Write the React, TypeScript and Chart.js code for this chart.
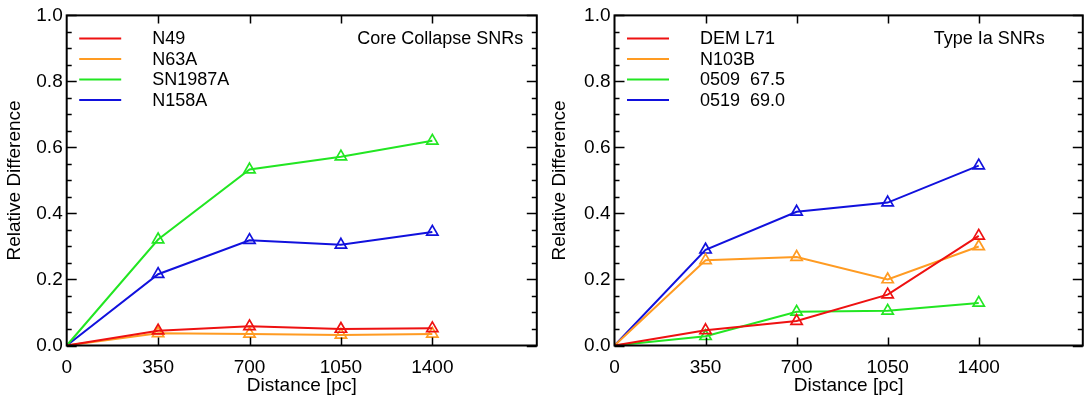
import React, { useEffect, useRef } from 'react';
import { Chart, registerables } from 'chart.js';

Chart.register(...registerables);

const FONT = "'Liberation Sans', Arial, Helvetica, sans-serif";

// Shared x positions (distance in pc)
const xValues = [0, 350, 700, 1050, 1400];
const xTickValues = [0, 350, 700, 1050, 1400];
const xInnerTicks = [350, 700, 1050, 1400];

// Core collapse SNRs
const ccLabels = ['N49', 'N63A', 'SN1987A', 'N158A'];
const n49 = [0, 0.045, 0.058, 0.05, 0.052];
const n63a = [0, 0.037, 0.035, 0.032, 0.035];
const sn1987a = [0, 0.321, 0.533, 0.572, 0.62];
const n158a = [0, 0.216, 0.319, 0.305, 0.344];

// Type Ia SNRs
const iaLabels = ['DEM L71', 'N103B', '0509  67.5', '0519  69.0'];
const demL71 = [0, 0.046, 0.074, 0.154, 0.332];
const n103b = [0, 0.258, 0.268, 0.2, 0.3];
const snr0509 = [0, 0.028, 0.102, 0.105, 0.129];
const snr0519 = [0, 0.29, 0.405, 0.433, 0.545];

const colors = ['#ee1111', '#ff9b22', '#22e622', '#1111dd'];

const framePlugin = {
  id: 'frameTicks',
  afterDraw(chart: any, _args: any, opts: any) {
    const { ctx, chartArea } = chart;
    const xs = chart.scales.x;
    const ys = chart.scales.y;
    ctx.save();
    ctx.strokeStyle = '#000';
    ctx.lineWidth = 2;
    ctx.strokeRect(chartArea.left, chartArea.top, chartArea.right - chartArea.left, chartArea.bottom - chartArea.top);
    ctx.lineWidth = 1.5;
    ctx.beginPath();
    for (let i = 0; i <= 20; i++) {
      const v = i * 0.05;
      const y = Math.round(ys.getPixelForValue(v)) + 0.5;
      const len = i % 4 === 0 ? 10 : 5;
      ctx.moveTo(chartArea.left, y);
      ctx.lineTo(chartArea.left + len, y);
      ctx.moveTo(chartArea.right, y);
      ctx.lineTo(chartArea.right - len, y);
    }
    for (const v of xInnerTicks) {
      const x = Math.round(xs.getPixelForValue(v)) + 0.5;
      ctx.moveTo(x, chartArea.bottom);
      ctx.lineTo(x, chartArea.bottom - 8);
      ctx.moveTo(x, chartArea.top);
      ctx.lineTo(x, chartArea.top + 8);
    }
    ctx.stroke();

    // legend
    ctx.font = `18px ${FONT}`;
    ctx.textBaseline = 'middle';
    ctx.textAlign = 'left';
    chart.data.datasets.forEach((ds: any, i: number) => {
      const y = chartArea.top + 23 + i * 20.5;
      ctx.strokeStyle = ds.borderColor;
      ctx.lineWidth = 2;
      ctx.beginPath();
      ctx.moveTo(chartArea.left + 12.5, y);
      ctx.lineTo(chartArea.left + 54.5, y);
      ctx.stroke();
      ctx.fillStyle = '#000';
      ctx.fillText(ds.label, chartArea.left + 85.5, y + 1);
    });
    // annotation
    ctx.textAlign = 'right';
    ctx.fillStyle = '#000';
    ctx.fillText(opts.note, chartArea.right - opts.noteRight, chartArea.top + 24);
    ctx.restore();
  },
};

function buildConfig(labels: string[], series: number[][], note: string, noteRight: number, leftW: number, rightPad: number) {
  return {
    type: 'line',
    data: {
      datasets: series.map((s, i) => ({
        label: labels[i],
        data: s.map((v, j) => ({ x: xValues[j], y: v })),
        borderColor: colors[i],
        borderWidth: 2,
        pointStyle: 'triangle',
        pointRadius: s.map((_, j) => (j === 0 ? 0 : 6.5)),
        pointBorderColor: colors[i],
        pointBackgroundColor: 'rgba(0,0,0,0)',
        pointBorderWidth: 1.7,
        fill: false,
        tension: 0,
      })),
    },
    options: {
      responsive: false,
      animation: false,
      clip: false,
      layout: { padding: { top: 9, right: rightPad, left: 0, bottom: 0 } },
      plugins: {
        legend: { display: false },
        tooltip: { enabled: false },
        frameTicks: { note, noteRight },
      },
      scales: {
        x: {
          type: 'linear',
          min: 0,
          max: 1800,
          afterBuildTicks: (s: any) => {
            s.ticks = xTickValues.map((v) => ({ value: v }));
          },
          ticks: {
            autoSkip: false,
            maxRotation: 0,
            padding: 11,
            color: '#000',
            font: { family: FONT, size: 19 },
            callback: (v: any) => String(v),
          },
          grid: { display: false, drawTicks: false },
          border: { display: false },
          title: {
            display: true,
            text: 'Distance [pc]',
            color: '#000',
            font: { family: FONT, size: 19 },
            padding: { top: 0, bottom: 0 },
          },
          afterFit: (s: any) => {
            s.height = 51.5;
          },
        },
        y: {
          type: 'linear',
          min: 0,
          max: 1,
          ticks: {
            stepSize: 0.2,
            padding: 4,
            color: '#000',
            font: { family: FONT, size: 19 },
            callback: (v: any) => Number(v).toFixed(1),
          },
          grid: { display: false, drawTicks: false },
          border: { display: false },
          title: {
            display: true,
            text: 'Relative Difference',
            color: '#000',
            font: { family: FONT, size: 19 },
            padding: { top: 3, bottom: 0 },
          },
          afterFit: (s: any) => {
            s.width = leftW;
          },
        },
      },
    },
    plugins: [framePlugin],
  } as any;
}

function Panel(props: { w: number; config: any }) {
  const ref = useRef<HTMLCanvasElement | null>(null);
  useEffect(() => {
    if (!ref.current) return;
    const chart = new Chart(ref.current, props.config);
    return () => chart.destroy();
  }, []);
  return <canvas ref={ref} width={props.w} height={397} style={{ display: 'block', width: props.w, height: 397 }} />;
}

export default function App() {
  const left = buildConfig(ccLabels, [n49, n63a, sn1987a, n158a], 'Core Collapse SNRs', 13.5, 66.7, 3.3);
  const right = buildConfig(iaLabels, [demL71, n103b, snr0509, snr0519], 'Type Ia SNRs', 38, 69.5, 2);
  return (
    <div style={{ position: 'absolute', left: 0, top: 0, width: 1091, height: 397, display: 'flex', background: '#fff' }}>
      <Panel w={545} config={left} />
      <Panel w={546} config={right} />
    </div>
  );
}
